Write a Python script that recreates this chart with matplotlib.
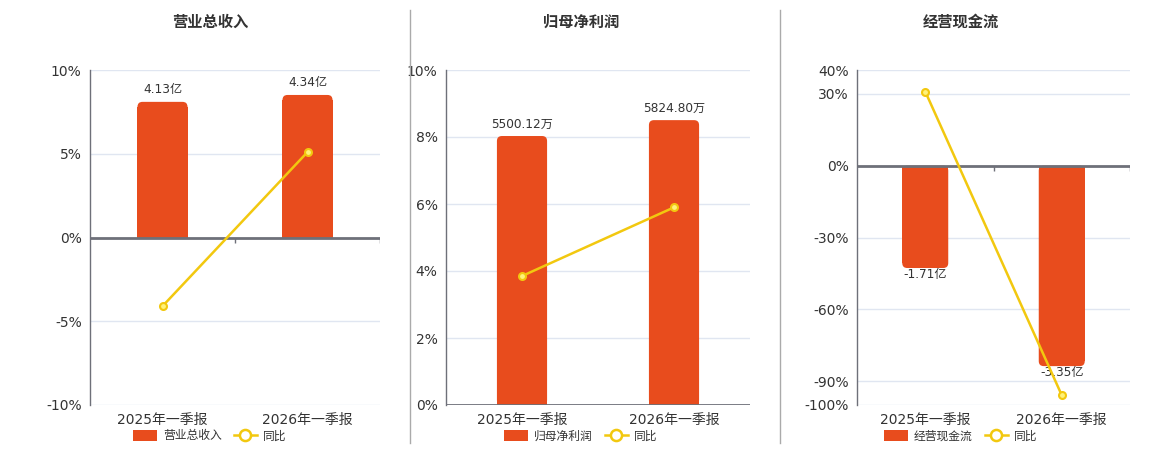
import matplotlib
matplotlib.use("Agg")
import matplotlib.pyplot as plt
from matplotlib.patches import FancyBboxPatch, Rectangle, Patch
from matplotlib.lines import Line2D

plt.rcParams['font.family'] = ['DejaVu Sans', 'Noto Sans CJK SC']

# 数据
categories = ['2025年一季报', '2026年一季报']

rev = [4.13, 4.34]
rev_labels = ['4.13亿', '4.34亿']
rev_yoy = [-4.1, 5.1]

profit = [5500.12, 5824.80]
profit_labels = ['5500.12万', '5824.80万']
profit_yoy = [3.85, 5.90]

cash = [-1.71, -3.35]
cash_labels = ['-1.71亿', '-3.35亿']
cash_yoy = [31.0, -95.9]

BAR = '#E84C1D'
LINE = '#F2C80F'
GRID = '#E0E6F1'
AXIS = '#6E7079'
TXT = '#333333'
CJK = ['Noto Sans CJK SC', 'DejaVu Sans']

W, H = 1160, 450
fig = plt.figure(figsize=(W / 100, H / 100), dpi=100)

panels = [
    dict(title='营业总收入', name='营业总收入', vals=rev, labels=rev_labels, yoy=rev_yoy,
         left=90, right=380, center=210, ylim=(-10, 10), yticks=[-10, -5, 0, 5, 10],
         blim=(-5.1, 5.1), width=0.345),
    dict(title='归母净利润', name='归母净利润', vals=profit, labels=profit_labels, yoy=profit_yoy,
         left=446, right=750, center=581, ylim=(0, 10), yticks=[0, 2, 4, 6, 8, 10],
         blim=(0, 6850), width=0.33),
    dict(title='经营现金流', name='经营现金流', vals=cash, labels=cash_labels, yoy=cash_yoy,
         left=857, right=1130, center=961, ylim=(-100, 40), yticks=[-100, -90, -60, -30, 0, 30, 40],
         blim=(-4.0, 1.6), width=0.337),
]

top_px, bot_px = 70, 405
ax_h_px = bot_px - top_px

for p in panels:
    rect = [p['left'] / W, (H - bot_px) / H, (p['right'] - p['left']) / W, ax_h_px / H]
    ax_w_px = p['right'] - p['left']
    x = list(range(len(categories)))

    # 底层：网格和刻度
    ax = fig.add_axes(rect)
    ax.set_xlim(-0.5, 1.5)
    ax.set_ylim(*p['ylim'])
    ax.set_yticks(p['yticks'])
    ax.set_yticklabels([f'{t}%' for t in p['yticks']])
    ax.tick_params(axis='y', length=0, labelsize=10, colors=TXT, pad=6)
    ax.set_xticks([])
    for t in p['yticks']:
        ax.axhline(t, color=GRID, lw=1, zorder=0)
    for s in ['top', 'right', 'bottom']:
        ax.spines[s].set_visible(False)
    ax.spines['left'].set_color(AXIS)
    ax.spines['left'].set_linewidth(1)
    for xi, c in zip(x, categories):
        ax.text(xi, -0.045, c, transform=ax.get_xaxis_transform(), ha='center', va='center',
                fontsize=10, color=TXT)

    # 柱状图
    ax2 = fig.add_axes(rect, sharex=ax)
    ax2.set_ylim(*p['blim'])
    ax2.axis('off')
    bl = p['blim']
    w = p['width']
    rx = 5 * 2.0 / ax_w_px
    ry = 5 * (bl[1] - bl[0]) / ax_h_px
    for xi, v, lab in zip(x, p['vals'], p['labels']):
        sign = 1 if v >= 0 else -1
        ax2.add_patch(FancyBboxPatch((xi - w / 2, min(0, v)), w, abs(v),
                                     boxstyle=f'round,pad=0,rounding_size={rx}',
                                     mutation_aspect=ry / rx, fc=BAR, ec='none'))
        ax2.add_patch(Rectangle((xi - w / 2, 0), w, v - sign * ry, fc=BAR, ec='none'))
        if v >= 0:
            ax2.annotate(lab, (xi, v), xytext=(0, 4), textcoords='offset points',
                         ha='center', va='bottom', fontsize=8.7, color=TXT)
        else:
            ax2.annotate(lab, (xi, v), xytext=(0, 0), textcoords='offset points',
                         ha='center', va='top', fontsize=8.7, color=TXT)

    # 同比折线
    ax3 = fig.add_axes(rect, sharex=ax)
    ax3.set_ylim(*p['ylim'])
    ax3.axis('off')
    ax3.axhline(0, color=AXIS, lw=2, zorder=3)
    yr = p['ylim'][1] - p['ylim'][0]
    dy = 5 * yr / ax_h_px
    ax3.vlines([0.5, 1.5], -dy, 0, color=AXIS, lw=1)
    ax3.plot(x, p['yoy'], color=LINE, lw=1.8, marker='o', ms=5,
             mfc='#FFF27A', mec=LINE, mew=1.5, zorder=4)

    # 标题与图例
    fig.text(p['center'] / W, 1 - 22 / H, p['title'], ha='center', va='center',
             fontsize=11, fontweight='bold', color=TXT, family=CJK)
    handles = [Patch(fc=BAR, ec='none', label=p['name']),
               Line2D([0], [0], color=LINE, lw=1.8, marker='o', ms=8, mfc='white',
                      mec=LINE, mew=1.8, label='同比')]
    leg = fig.legend(handles=handles, loc='center', bbox_to_anchor=(p['center'] / W, 1 - 436 / H),
                     ncol=2, frameon=False, prop={'family': CJK, 'size': 8.5},
                     handlelength=2.0, handleheight=1.0,
                     columnspacing=1.0, handletextpad=0.5, borderpad=0)
    for t in leg.get_texts():
        t.set_color(TXT)

# 分隔线
for xs in [410, 780]:
    fig.add_artist(Line2D([xs / W, xs / W], [1 - 10 / H, 1 - 443 / H], color='#AAAAAA', lw=1))

fig.savefig('out.png', dpi=100)
